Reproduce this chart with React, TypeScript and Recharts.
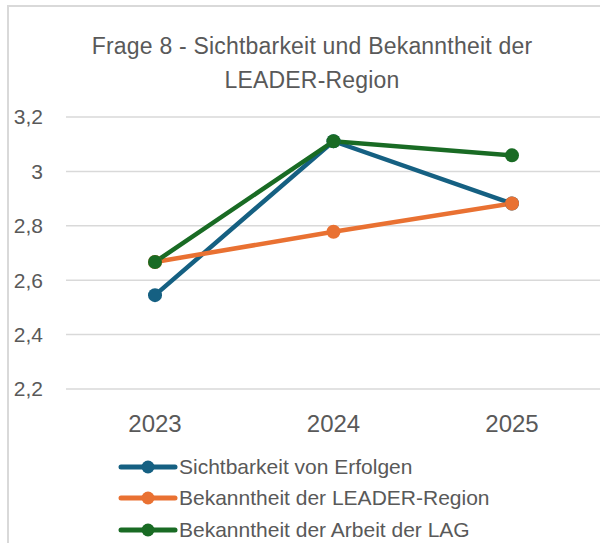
import React from "react";
import { LineChart, Line, XAxis, YAxis, CartesianGrid } from "recharts";

const years = ["2023", "2024", "2025"];
const sichtbarkeitErfolge = [2.545, 3.111, 2.882];
const bekanntheitRegion = [2.667, 2.778, 2.882];
const bekanntheitArbeit = [2.667, 3.111, 3.059];
const yTicks = [2.2, 2.4, 2.6, 2.8, 3, 3.2];

const seriesInfo = [
  { key: "erfolge", name: "Sichtbarkeit von Erfolgen", color: "#156082" },
  { key: "region", name: "Bekanntheit der LEADER-Region", color: "#E97132" },
  { key: "arbeit", name: "Bekanntheit der Arbeit der LAG", color: "#196B24" },
];

const data = years.map((year, i) => ({
  year,
  erfolge: sichtbarkeitErfolge[i],
  region: bekanntheitRegion[i],
  arbeit: bekanntheitArbeit[i],
}));

const grey = "#595959";

function LegendBox() {
  return (
    <div style={{ position: "absolute", left: 118, top: 451, display: "flex", flexDirection: "column" }}>
      {seriesInfo.map((s) => (
        <div key={s.key} style={{ display: "flex", alignItems: "center", height: 31.5 }}>
          <svg width={60} height={16}>
            <line x1={3} y1={8} x2={57} y2={8} stroke={s.color} strokeWidth={5} strokeLinecap="round" />
            <circle cx={30} cy={8} r={6.5} fill={s.color} />
          </svg>
          <span style={{ fontFamily: "Liberation Sans", fontSize: 21, color: grey, marginLeft: 1, lineHeight: "24px" }}>
            {s.name}
          </span>
        </div>
      ))}
    </div>
  );
}

export default function App() {
  return (
    <div style={{ position: "absolute", left: 0, top: 0, width: 600, height: 543, overflow: "hidden", background: "#fff" }}>
      <div
        style={{
          position: "absolute",
          left: 7,
          top: 5,
          width: 700,
          height: 700,
          borderLeft: "2px solid #d9d9d9",
          borderTop: "2px solid #d9d9d9",
        }}
      />
      <div
        style={{
          position: "absolute",
          left: 0,
          top: 29,
          width: 624,
          textAlign: "center",
          fontFamily: "Liberation Sans",
          fontSize: 23,
          letterSpacing: 0.2,
          lineHeight: "34px",
          color: grey,
        }}
      >
        Frage 8 - Sichtbarkeit und Bekanntheit der
        <br />
        LEADER-Region
      </div>
      <div style={{ position: "absolute", left: 0, top: 0 }}>
        <LineChart width={602} height={543} data={data} margin={{ top: 117, right: 1, bottom: 114, left: 0 }}>
          <CartesianGrid vertical={false} stroke="#d9d9d9" strokeWidth={1.5} />
          <XAxis
            dataKey="year"
            axisLine={false}
            tickLine={false}
            tickSize={0}
            tickMargin={26}
            padding={{ left: 89, right: 89 }}
            tick={{ fill: grey, fontSize: 24, fontFamily: "Liberation Sans" }}
            height={40}
          />
          <YAxis
            domain={[2.2, 3.2]}
            ticks={yTicks}
            width={66}
            axisLine={false}
            tickLine={false}
            tickSize={0}
            tickMargin={23}
            tickFormatter={(v: number) => String(v).replace(".", ",")}
            tick={{ fill: grey, fontSize: 21, fontFamily: "Liberation Sans" }}
          />
          {seriesInfo.map((s) => (
            <Line
              key={s.key}
              dataKey={s.key}
              name={s.name}
              type="linear"
              stroke={s.color}
              strokeWidth={4.5}
              dot={{ r: 7, fill: s.color, stroke: s.color, strokeWidth: 0 }}
              isAnimationActive={false}
            />
          ))}
        </LineChart>
      </div>
      <LegendBox />
    </div>
  );
}
